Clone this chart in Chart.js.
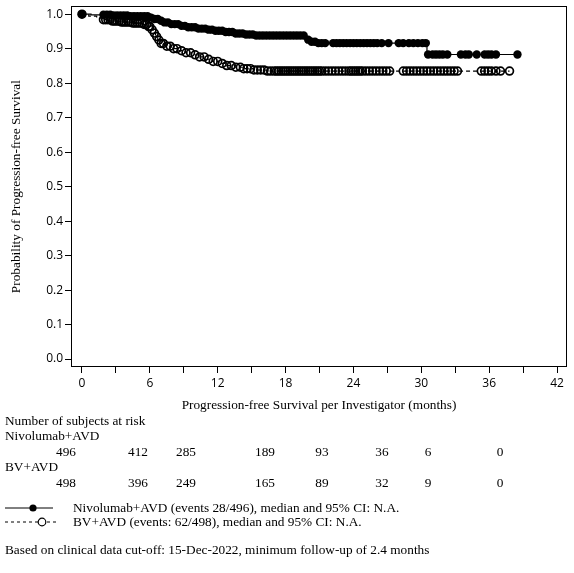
<!DOCTYPE html>
<html>
<head>
<meta charset="utf-8">
<script src="https://cdn.jsdelivr.net/npm/chart.js@4.4.0/dist/chart.umd.min.js"></script>
<style>
  html, body { margin: 0; padding: 0; background: #fff; }
  #page { position: relative; width: 574px; height: 573px; overflow: hidden;
          font-family: 'Liberation Serif', 'Times New Roman', serif; font-size: 13.3px; color: #000; }
  #chartBox { position: absolute; left: 0; top: -3px; width: 574px; height: 418px; }
  .txt { position: absolute; white-space: nowrap; line-height: 16px; }
  .num { position: absolute; white-space: nowrap; line-height: 16px; transform: translateX(-50%); }
  .sym { position: absolute; left: 0; }
</style>
</head>
<body>
<div id="page">
  <div id="chartBox"><canvas id="chartPFS"></canvas></div>
  <div id="riskTable"></div>
  <svg class="sym" style="top:501px" width="70" height="14">
    <line x1="5" y1="7" x2="53" y2="7" stroke="#000" stroke-width="1"/>
    <circle cx="33" cy="7" r="3.6" fill="#000"/>
  </svg>
  <svg class="sym" style="top:515px" width="70" height="14">
    <line x1="5" y1="7" x2="57" y2="7" stroke="#000" stroke-width="1" stroke-dasharray="3,3"/>
    <circle cx="42" cy="7" r="3.8" fill="#fff" stroke="#000" stroke-width="1.2"/>
  </svg>
  <div class="txt" id="footnote" style="left:5px;top:542px"></div>
</div>

<script>
// Kaplan-Meier steps (months, survival)
const nivoTimes = [0, 0.8, 2.6, 4.2, 5.9, 6.3, 6.8, 7.3, 7.9, 8.6, 9.3, 10.2, 11.0, 11.8, 12.6, 13.4, 14.3, 15.3, 19.7, 20.0, 20.3, 20.8, 30.5];
const nivoSurv  = [1.0, 0.998, 0.996, 0.994, 0.990, 0.986, 0.981, 0.976, 0.971, 0.966, 0.962, 0.958, 0.955, 0.952, 0.948, 0.944, 0.941, 0.938, 0.933, 0.926, 0.920, 0.916, 0.883];

const bvTimes = [0, 0.6, 1.3, 1.8, 2.6, 3.5, 4.5, 5.4, 5.9, 6.1, 6.3, 6.5, 6.7, 7.0, 7.4, 7.9, 8.5, 9.1, 9.7, 10.3, 10.9, 11.5, 12.1, 12.8, 13.5, 14.3, 15.2, 16.3];
const bvSurv  = [1.0, 0.994, 0.988, 0.984, 0.980, 0.977, 0.974, 0.970, 0.964, 0.955, 0.945, 0.935, 0.925, 0.915, 0.907, 0.900, 0.894, 0.888, 0.882, 0.876, 0.869, 0.863, 0.857, 0.851, 0.846, 0.842, 0.838, 0.835];

// censoring times (months)
const nivoCensor = [0, 1.9, 2.2, 2.5, 2.8, 3.1, 3.4, 3.7, 4.0, 4.3, 4.6, 4.9, 5.2, 5.5, 5.8, 6.1, 6.4, 6.7, 7.0,
  7.3, 7.6, 7.9, 8.2, 8.5, 8.8, 9.1, 9.4, 9.7, 10.0, 10.3, 10.6, 10.9, 11.2, 11.5, 11.8, 12.1, 12.4, 12.7,
  13.0, 13.3, 13.6, 13.9, 14.2, 14.5, 14.8, 15.1, 15.4, 15.7, 16.0, 16.3, 16.6, 16.9, 17.2, 17.5, 17.8,
  18.1, 18.4, 18.7, 19.0, 19.3, 19.6, 20.0, 20.3, 20.6, 20.9, 21.2, 21.5, 22.2, 22.5, 22.8, 23.1, 23.4,
  23.7, 24.0, 24.3, 24.6, 24.9, 25.2, 25.5, 25.8, 26.1, 26.5, 27.1, 28.0, 28.4, 28.9, 29.3, 29.7, 30.1,
  30.4, 30.6, 31.0, 31.3, 31.6, 31.9, 32.3, 33.5, 33.9, 34.2, 34.9, 35.6, 35.9, 36.2, 36.6, 38.5];
const bvCensor = [0, 1.9, 2.1, 2.3, 2.5, 2.7, 2.9, 3.1, 3.3, 3.5, 3.7, 3.9, 4.1, 4.3, 4.5, 4.7, 4.9, 5.1,
  5.3, 5.5, 5.7, 5.9, 6.0, 6.2, 6.4, 6.6, 6.8, 7.0, 7.2, 7.5, 7.8, 8.1, 8.4, 8.8, 9.2, 9.6, 10.0, 10.4,
  10.8, 11.2, 11.6, 12.0, 12.4, 12.8, 13.2, 13.6, 14.0, 14.3, 14.6, 14.9, 15.2, 15.5, 15.8, 16.1, 16.4,
  16.7, 17.0, 17.2, 17.4, 17.6, 17.8, 18.0, 18.2, 18.4, 18.6, 18.8, 19.0, 19.2, 19.4, 19.6, 19.8, 20.0,
  20.2, 20.4, 20.6, 20.8, 21.0, 21.2, 21.5, 21.8, 22.1, 22.4, 22.7, 23.0, 23.3, 23.6, 23.8, 24.0, 24.2,
  24.4, 24.6, 24.8, 25.1, 25.4, 25.7, 26.0, 26.3, 26.6, 26.9, 27.2, 28.4, 28.7, 29.0, 29.3, 29.6, 29.9,
  30.2, 30.5, 30.8, 31.1, 31.4, 31.7, 32.0, 32.3, 32.6, 32.9, 33.2, 35.3, 35.6, 35.9, 36.2, 36.6, 37.0, 37.8];

const xTicks = [0, 3, 6, 9, 12, 15, 18, 21, 24, 27, 30, 33, 36, 39, 42];
const yTicks = [0, 0.1, 0.2, 0.3, 0.4, 0.5, 0.6, 0.7, 0.8, 0.9, 1.0];

const armNames = ['Nivolumab+AVD', 'BV+AVD'];
const nivoAtRisk = [496, 412, 285, 189, 93, 36, 6, 0];
const bvAtRisk = [498, 396, 249, 165, 89, 32, 9, 0];

const legendLabels = [
  'Nivolumab+AVD (events 28/496), median and 95% CI: N.A.',
  'BV+AVD (events: 62/498), median and 95% CI: N.A.'
];
const footnoteText = 'Based on clinical data cut-off: 15-Dec-2022, minimum follow-up of 2.4 months';

// value of the step curve at time t
function survAt(times, surv, t) {
  let s = surv[0];
  for (let i = 0; i < times.length; i++) {
    if (times[i] <= t) s = surv[i];
  }
  return s;
}

function stepData(times, surv, censor) {
  const pts = times.map((t, i) => ({ x: t, y: surv[i] }));
  const end = Math.max(...censor);
  pts.push({ x: end, y: surv[surv.length - 1] });
  return pts;
}

function censorData(times, surv, censor) {
  return censor.map(t => ({ x: t, y: survAt(times, surv, t) }));
}

const frame = {
  id: 'frame',
  afterDraw(chart) {
    const { ctx, chartArea: a } = chart;
    ctx.save();
    ctx.strokeStyle = '#000';
    ctx.lineWidth = 1;
    ctx.strokeRect(Math.round(a.left) + 0.5, Math.round(a.top) + 0.5,
      Math.round(a.right - a.left) - 1, Math.round(a.bottom - a.top) - 1);
    ctx.restore();
  }
};

const sansTick = { family: "'Open Sans', 'Noto Sans', sans-serif", size: 12 };
const serifTitle = { family: "'Liberation Serif', 'Times New Roman', serif", size: 13.3 };

const ctxPFS = document.getElementById('chartPFS');
const chartPFS = new Chart(ctxPFS, {
  type: 'line',
  data: {
    datasets: [
      {
        label: 'Nivolumab+AVD censored',
        data: censorData(nivoTimes, nivoSurv, nivoCensor),
        showLine: false,
        pointStyle: 'circle',
        pointRadius: 4.2,
        pointBackgroundColor: '#000',
        pointBorderColor: '#000',
        pointBorderWidth: 0
      },
      {
        label: 'Nivolumab+AVD',
        data: stepData(nivoTimes, nivoSurv, nivoCensor),
        stepped: 'before',
        borderColor: '#000',
        borderWidth: 1.2,
        pointRadius: 0,
        fill: false
      },
      {
        label: 'BV+AVD censored',
        data: censorData(bvTimes, bvSurv, bvCensor),
        showLine: false,
        pointStyle: 'circle',
        pointRadius: 3.9,
        pointBackgroundColor: 'rgba(0,0,0,0)',
        pointBorderColor: '#000',
        pointBorderWidth: 1.7
      },
      {
        label: 'BV+AVD',
        data: stepData(bvTimes, bvSurv, bvCensor),
        stepped: 'before',
        borderColor: '#000',
        borderWidth: 1.2,
        borderDash: [4, 3],
        pointRadius: 0,
        fill: false
      }
    ]
  },
  options: {
    responsive: true,
    maintainAspectRatio: false,
    animation: false,
    layout: { padding: { top: 5, right: 7, left: 0, bottom: 0 } },
    plugins: {
      legend: { display: false },
      tooltip: { enabled: false }
    },
    scales: {
      x: {
        type: 'linear',
        min: -0.97,
        max: 42.88,
        afterBuildTicks: scale => { scale.ticks = xTicks.map(v => ({ value: v })); },
        afterFit: scale => { scale.height = 48; },
        ticks: {
          autoSkip: false,
          maxRotation: 0,
          padding: 3,
          color: '#000',
          font: sansTick,
          callback: v => (v % 6 === 0 ? String(v) : '')
        },
        grid: { drawOnChartArea: false, drawTicks: true, tickLength: 6, tickColor: '#000' },
        border: { display: false },
        title: {
          display: true,
          text: 'Progression-free Survival per Investigator (months)',
          color: '#000',
          font: serifTitle,
          padding: { top: 0, bottom: 2 }
        }
      },
      y: {
        type: 'linear',
        min: -0.023,
        max: 1.023,
        afterBuildTicks: scale => { scale.ticks = yTicks.map(v => ({ value: v })); },
        afterFit: scale => { scale.width = 71; },
        ticks: {
          padding: 2,
          color: '#000',
          font: sansTick,
          callback: v => v.toFixed(1)
        },
        grid: { drawOnChartArea: false, drawTicks: true, tickLength: 6, tickColor: '#000' },
        border: { display: false },
        title: {
          display: true,
          text: 'Probability of Progression-free Survival',
          color: '#000',
          font: serifTitle,
          padding: { top: 9, bottom: 0 }
        }
      }
    }
  },
  plugins: [frame]
});

// risk table and legend text (plain HTML)
const riskColX = [66, 138, 186, 265, 322, 382, 428, 500];
const risk = document.getElementById('riskTable');
function addText(cls, text, left, top) {
  const d = document.createElement('div');
  d.className = cls;
  d.textContent = text;
  d.style.left = left + 'px';
  d.style.top = top + 'px';
  risk.appendChild(d);
}
addText('txt', 'Number of subjects at risk', 5, 413);
addText('txt', armNames[0], 5, 428);
nivoAtRisk.forEach((n, i) => addText('num', String(n), riskColX[i], 444));
addText('txt', armNames[1], 5, 459);
bvAtRisk.forEach((n, i) => addText('num', String(n), riskColX[i], 475));
addText('txt', legendLabels[0], 73, 500);
addText('txt', legendLabels[1], 73, 514);
document.getElementById('footnote').textContent = footnoteText;
</script>
</body>
</html>
